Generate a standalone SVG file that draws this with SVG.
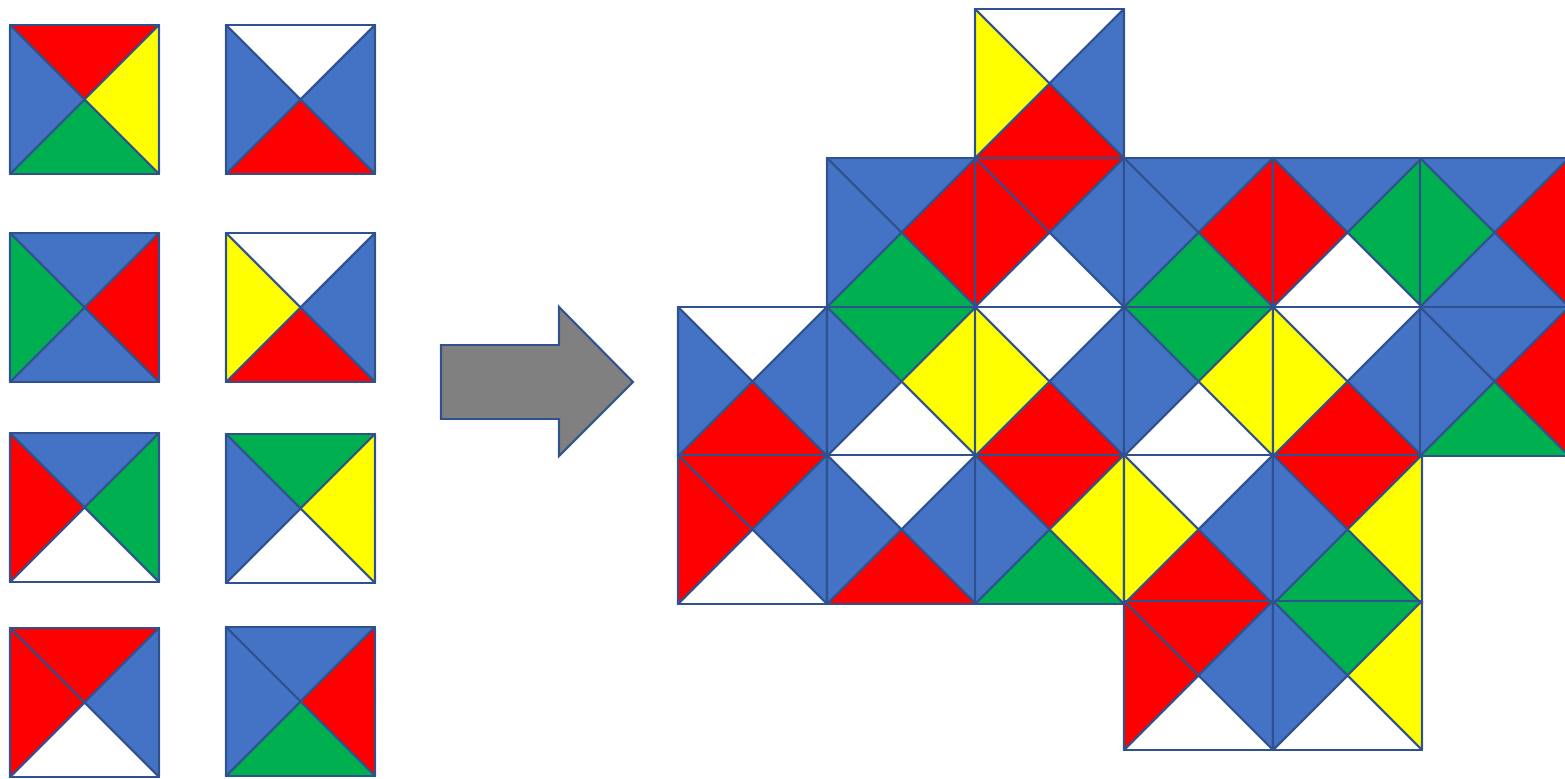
<svg xmlns="http://www.w3.org/2000/svg" xmlns:xlink="http://www.w3.org/1999/xlink" width="1565" height="779" viewBox="0 0 1565 779">
<style>
.r{fill:#FF0000}.b{fill:#4472C4}.y{fill:#FFFF00}.g{fill:#00B050}.w{fill:#FFFFFF}
use{stroke:#2F528F;stroke-width:2.2;stroke-linejoin:round}
.arrow{fill:#808080;stroke:#2F528F;stroke-width:2.2}
</style>
<defs>
<polygon id="t" points="0,0 149,0 74.5,74.5"/>
<polygon id="r" points="149,0 149,149 74.5,74.5"/>
<polygon id="bt" points="0,149 149,149 74.5,74.5"/>
<polygon id="l" points="0,0 0,149 74.5,74.5"/>
</defs>
<g id="tile-a1" transform="translate(10,25)"><use xlink:href="#t" class="r"/><use xlink:href="#r" class="y"/><use xlink:href="#bt" class="g"/><use xlink:href="#l" class="b"/></g>
<g id="tile-a2" transform="translate(226,25)"><use xlink:href="#t" class="w"/><use xlink:href="#r" class="b"/><use xlink:href="#bt" class="r"/><use xlink:href="#l" class="b"/></g>
<g id="tile-a3" transform="translate(10,233)"><use xlink:href="#t" class="b"/><use xlink:href="#r" class="r"/><use xlink:href="#bt" class="b"/><use xlink:href="#l" class="g"/></g>
<g id="tile-a4" transform="translate(226,233)"><use xlink:href="#t" class="w"/><use xlink:href="#r" class="b"/><use xlink:href="#bt" class="r"/><use xlink:href="#l" class="y"/></g>
<g id="tile-a5" transform="translate(10,433)"><use xlink:href="#t" class="b"/><use xlink:href="#r" class="g"/><use xlink:href="#bt" class="w"/><use xlink:href="#l" class="r"/></g>
<g id="tile-a6" transform="translate(226,434)"><use xlink:href="#t" class="g"/><use xlink:href="#r" class="y"/><use xlink:href="#bt" class="w"/><use xlink:href="#l" class="b"/></g>
<g id="tile-a7" transform="translate(10,628)"><use xlink:href="#t" class="r"/><use xlink:href="#r" class="b"/><use xlink:href="#bt" class="w"/><use xlink:href="#l" class="r"/></g>
<g id="tile-a8" transform="translate(226,627)"><use xlink:href="#t" class="b"/><use xlink:href="#r" class="r"/><use xlink:href="#bt" class="g"/><use xlink:href="#l" class="b"/></g>
<g id="arrow"><polygon class="arrow" points="441,345 559,345 559,307 633,382 559,456 559,419 441,419"/></g>
<g id="grid">
<g id="g-0-2" transform="translate(975,9)"><use xlink:href="#t" class="w"/><use xlink:href="#r" class="b"/><use xlink:href="#bt" class="r"/><use xlink:href="#l" class="y"/></g>
<g id="g-1-1" transform="translate(827,158)"><use xlink:href="#t" class="b"/><use xlink:href="#r" class="r"/><use xlink:href="#bt" class="g"/><use xlink:href="#l" class="b"/></g>
<g id="g-1-2" transform="translate(975,158)"><use xlink:href="#t" class="r"/><use xlink:href="#r" class="b"/><use xlink:href="#bt" class="w"/><use xlink:href="#l" class="r"/></g>
<g id="g-1-3" transform="translate(1124,158)"><use xlink:href="#t" class="b"/><use xlink:href="#r" class="r"/><use xlink:href="#bt" class="g"/><use xlink:href="#l" class="b"/></g>
<g id="g-1-4" transform="translate(1273,158)"><use xlink:href="#t" class="b"/><use xlink:href="#r" class="g"/><use xlink:href="#bt" class="w"/><use xlink:href="#l" class="r"/></g>
<g id="g-1-5" transform="translate(1420,158)"><use xlink:href="#t" class="b"/><use xlink:href="#r" class="r"/><use xlink:href="#bt" class="b"/><use xlink:href="#l" class="g"/></g>
<g id="g-2-0" transform="translate(678,307)"><use xlink:href="#t" class="w"/><use xlink:href="#r" class="b"/><use xlink:href="#bt" class="r"/><use xlink:href="#l" class="b"/></g>
<g id="g-2-1" transform="translate(827,307)"><use xlink:href="#t" class="g"/><use xlink:href="#r" class="y"/><use xlink:href="#bt" class="w"/><use xlink:href="#l" class="b"/></g>
<g id="g-2-2" transform="translate(975,307)"><use xlink:href="#t" class="w"/><use xlink:href="#r" class="b"/><use xlink:href="#bt" class="r"/><use xlink:href="#l" class="y"/></g>
<g id="g-2-3" transform="translate(1124,307)"><use xlink:href="#t" class="g"/><use xlink:href="#r" class="y"/><use xlink:href="#bt" class="w"/><use xlink:href="#l" class="b"/></g>
<g id="g-2-4" transform="translate(1273,307)"><use xlink:href="#t" class="w"/><use xlink:href="#r" class="b"/><use xlink:href="#bt" class="r"/><use xlink:href="#l" class="y"/></g>
<g id="g-2-5" transform="translate(1420,307)"><use xlink:href="#t" class="b"/><use xlink:href="#r" class="r"/><use xlink:href="#bt" class="g"/><use xlink:href="#l" class="b"/></g>
<g id="g-3-0" transform="translate(678,455)"><use xlink:href="#t" class="r"/><use xlink:href="#r" class="b"/><use xlink:href="#bt" class="w"/><use xlink:href="#l" class="r"/></g>
<g id="g-3-1" transform="translate(827,455)"><use xlink:href="#t" class="w"/><use xlink:href="#r" class="b"/><use xlink:href="#bt" class="r"/><use xlink:href="#l" class="b"/></g>
<g id="g-3-2" transform="translate(975,455)"><use xlink:href="#t" class="r"/><use xlink:href="#r" class="y"/><use xlink:href="#bt" class="g"/><use xlink:href="#l" class="b"/></g>
<g id="g-3-3" transform="translate(1124,455)"><use xlink:href="#t" class="w"/><use xlink:href="#r" class="b"/><use xlink:href="#bt" class="r"/><use xlink:href="#l" class="y"/></g>
<g id="g-3-4" transform="translate(1273,455)"><use xlink:href="#t" class="r"/><use xlink:href="#r" class="y"/><use xlink:href="#bt" class="g"/><use xlink:href="#l" class="b"/></g>
<g id="g-4-3" transform="translate(1124,601)"><use xlink:href="#t" class="r"/><use xlink:href="#r" class="b"/><use xlink:href="#bt" class="w"/><use xlink:href="#l" class="r"/></g>
<g id="g-4-4" transform="translate(1273,601)"><use xlink:href="#t" class="g"/><use xlink:href="#r" class="y"/><use xlink:href="#bt" class="w"/><use xlink:href="#l" class="b"/></g>
</g>
</svg>
